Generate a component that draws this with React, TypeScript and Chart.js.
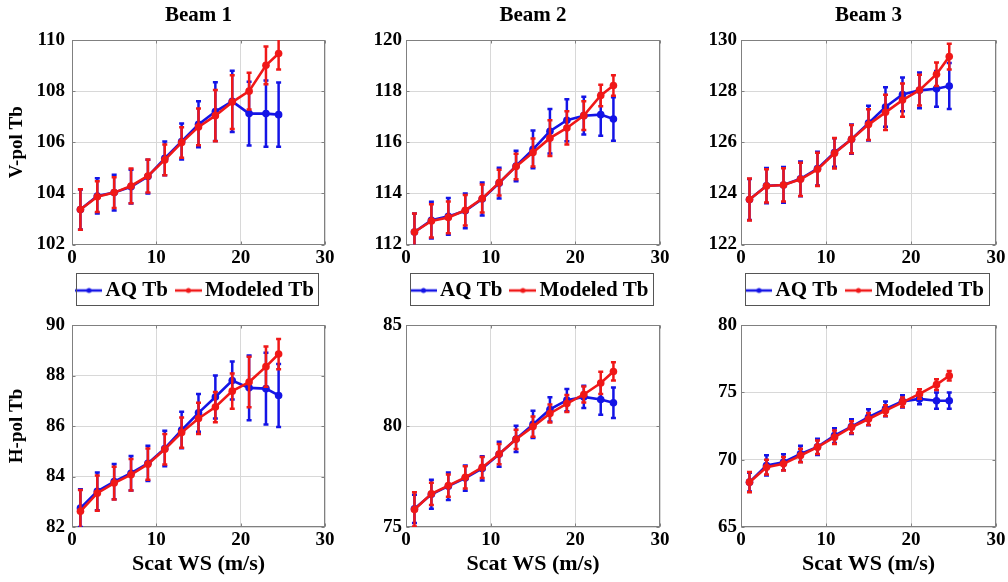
import React, { useEffect, useRef } from 'react';
import { Chart, registerables } from 'chart.js';

Chart.register(...registerables);
Chart.defaults.font.family = '"Liberation Serif", "Times New Roman", serif';
Chart.defaults.color = '#000';

// ---------- data ----------
const WS = [1, 3, 5, 7, 9, 11, 13, 15, 17, 19, 21, 23, 24.5];
const BEAMS = ['Beam 1', 'Beam 2', 'Beam 3'];
const SERIES_NAMES = ['AQ Tb', 'Modeled Tb'];
const ROW_LABELS = ['V-pol Tb', 'H-pol Tb'];
const X_LABEL = 'Scat WS (m/s)';
const X_MIN = 0;
const X_MAX = 30;
const X_STEP = 10;

const V_Y_MIN = [102, 112, 122];
const V_Y_MAX = [110, 120, 130];
const V_Y_STEP = [2, 2, 2];
const H_Y_MIN = [82, 75, 65];
const H_Y_MAX = [90, 85, 80];
const H_Y_STEP = [2, 5, 5];

// V-pol
const V1_AQ = [103.37, 103.9, 104.03, 104.26, 104.66, 105.37, 106.03, 106.7, 107.2, 107.6, 107.12, 107.12, 107.08];
const V1_AQ_ERR = [0.78, 0.69, 0.7, 0.66, 0.66, 0.66, 0.7, 0.9, 1.15, 1.2, 1.25, 1.3, 1.26];
const V1_MOD = [103.37, 103.87, 104.03, 104.29, 104.68, 105.31, 105.99, 106.6, 107.04, 107.57, 108.0, 109.01, 109.47];
const V1_MOD_ERR = [0.79, 0.6, 0.6, 0.68, 0.65, 0.6, 0.6, 0.72, 1.0, 1.05, 0.72, 0.74, 0.62];

const V2_AQ = [112.49, 112.95, 113.1, 113.32, 113.78, 114.4, 115.07, 115.72, 116.43, 116.86, 117.04, 117.08, 116.91];
const V2_AQ_ERR = [0.72, 0.72, 0.72, 0.68, 0.65, 0.6, 0.6, 0.74, 0.87, 0.82, 0.74, 0.83, 0.85];
const V2_MOD = [112.49, 112.92, 113.06, 113.34, 113.8, 114.42, 115.05, 115.6, 116.16, 116.56, 117.04, 117.83, 118.22];
const V2_MOD_ERR = [0.72, 0.65, 0.62, 0.6, 0.55, 0.5, 0.5, 0.55, 0.7, 0.65, 0.56, 0.42, 0.4];

const V3_AQ = [123.76, 124.3, 124.33, 124.57, 124.97, 125.6, 126.12, 126.75, 127.38, 127.87, 128.03, 128.09, 128.2];
const V3_AQ_ERR = [0.8, 0.69, 0.7, 0.68, 0.66, 0.56, 0.57, 0.68, 0.77, 0.66, 0.7, 0.7, 0.9];
const V3_MOD = [123.76, 124.29, 124.33, 124.55, 124.94, 125.57, 126.12, 126.69, 127.17, 127.65, 128.04, 128.66, 129.35];
const V3_MOD_ERR = [0.82, 0.65, 0.65, 0.65, 0.65, 0.6, 0.55, 0.6, 0.69, 0.65, 0.6, 0.46, 0.5];

// H-pol
const H1_AQ = [82.75, 83.41, 83.8, 84.13, 84.52, 85.11, 85.84, 86.52, 87.15, 87.8, 87.51, 87.48, 87.21];
const H1_AQ_ERR = [0.75, 0.75, 0.7, 0.68, 0.7, 0.7, 0.72, 0.75, 0.85, 0.75, 1.28, 1.42, 1.25];
const H1_MOD = [82.62, 83.34, 83.74, 84.07, 84.49, 85.08, 85.74, 86.3, 86.75, 87.38, 87.74, 88.35, 88.85];
const H1_MOD_ERR = [0.85, 0.7, 0.65, 0.62, 0.62, 0.6, 0.6, 0.62, 0.6, 0.7, 1.0, 0.8, 0.6];

const H2_AQ = [75.9, 76.62, 77.02, 77.42, 77.9, 78.6, 79.36, 80.08, 80.82, 81.28, 81.44, 81.31, 81.15];
const H2_AQ_ERR = [0.7, 0.72, 0.68, 0.62, 0.6, 0.62, 0.65, 0.68, 0.6, 0.55, 0.55, 0.75, 0.75];
const H2_MOD = [75.87, 76.64, 77.05, 77.46, 77.95, 78.61, 79.34, 79.97, 80.62, 81.11, 81.56, 82.13, 82.7];
const H2_MOD_ERR = [0.85, 0.55, 0.55, 0.55, 0.52, 0.5, 0.48, 0.5, 0.45, 0.42, 0.4, 0.55, 0.45];

const H3_AQ = [68.33, 69.57, 69.81, 70.43, 70.95, 71.79, 72.46, 73.15, 73.77, 74.33, 74.51, 74.38, 74.38];
const H3_AQ_ERR = [0.7, 0.75, 0.6, 0.6, 0.6, 0.55, 0.55, 0.6, 0.55, 0.45, 0.4, 0.6, 0.6];
const H3_MOD = [68.33, 69.44, 69.69, 70.31, 70.93, 71.67, 72.41, 73.02, 73.64, 74.26, 74.88, 75.57, 76.23];
const H3_MOD_ERR = [0.75, 0.55, 0.5, 0.5, 0.5, 0.5, 0.45, 0.45, 0.4, 0.35, 0.35, 0.4, 0.35];

const AQ_ROWS = [[V1_AQ, V2_AQ, V3_AQ], [H1_AQ, H2_AQ, H3_AQ]];
const AQ_ERR_ROWS = [[V1_AQ_ERR, V2_AQ_ERR, V3_AQ_ERR], [H1_AQ_ERR, H2_AQ_ERR, H3_AQ_ERR]];
const MOD_ROWS = [[V1_MOD, V2_MOD, V3_MOD], [H1_MOD, H2_MOD, H3_MOD]];
const MOD_ERR_ROWS = [[V1_MOD_ERR, V2_MOD_ERR, V3_MOD_ERR], [H1_MOD_ERR, H2_MOD_ERR, H3_MOD_ERR]];
const Y_MIN_ROWS = [V_Y_MIN, H_Y_MIN];
const Y_MAX_ROWS = [V_Y_MAX, H_Y_MAX];
const Y_STEP_ROWS = [V_Y_STEP, H_Y_STEP];

// ---------- styling / layout ----------
const BLUE = '#1414e6';
const RED = '#f01818';
const FRAME = '#808080';
const GRID = '#d8d8d8';
const PLOT_LEFT = [72, 406, 741];
const PLOT_W = [253, 254, 255];
const SIDE = 72;
const ROW_TOP = [0, 300];
const ROW_H = [311, 282];
const Y_TICK_PAD = [7, 4, 4];
const LEGEND_PAD = 14.5;
const LEGEND_FONT = 21;

function makeIcon(color: string): HTMLCanvasElement {
  const c = document.createElement('canvas');
  c.width = 27;
  c.height = 10;
  const ctx = c.getContext('2d')!;
  ctx.strokeStyle = color;
  ctx.lineWidth = 2.5;
  ctx.beginPath();
  ctx.moveTo(0, 5);
  ctx.lineTo(27, 5);
  ctx.stroke();
  ctx.fillStyle = color;
  ctx.beginPath();
  ctx.arc(13.5, 5, 2.5, 0, Math.PI * 2);
  ctx.fill();
  return c;
}

const framePlugin = {
  id: 'frame',
  beforeDatasetsDraw(chart: any) {
    const { ctx, chartArea: a, scales } = chart;
    const L = Math.round(a.left) + 0.5;
    const R = Math.round(a.right) - 0.5;
    const T = Math.round(a.top) + 0.5;
    const B = Math.round(a.bottom) - 0.5;
    ctx.save();
    ctx.strokeStyle = FRAME;
    ctx.lineWidth = 1;
    ctx.strokeRect(L, T, R - L, B - T);
    ctx.beginPath();
    scales.x.ticks.forEach((t: any) => {
      const px = Math.round(scales.x.getPixelForValue(t.value)) + 0.5;
      ctx.moveTo(px, B);
      ctx.lineTo(px, B - 3);
      ctx.moveTo(px, T);
      ctx.lineTo(px, T + 3);
    });
    scales.y.ticks.forEach((t: any) => {
      const py = Math.round(scales.y.getPixelForValue(t.value)) + 0.5;
      ctx.moveTo(L, py);
      ctx.lineTo(L + 3, py);
      ctx.moveTo(R, py);
      ctx.lineTo(R - 3, py);
    });
    ctx.stroke();
    ctx.restore();
  },
};

const errorBarPlugin = {
  id: 'errbars',
  afterDatasetDraw(chart: any, args: any) {
    const ds = chart.data.datasets[args.index];
    const errs: number[] | undefined = ds.errors;
    if (!errs) return;
    const { ctx, chartArea: a } = chart;
    const ys = chart.scales.y;
    ctx.save();
    ctx.beginPath();
    ctx.rect(a.left, a.top, a.right - a.left, a.bottom - a.top);
    ctx.clip();
    ctx.strokeStyle = ds.borderColor;
    ctx.lineWidth = 2.5;
    args.meta.data.forEach((pt: any, i: number) => {
      const v = ds.data[i].y;
      const e = errs[i];
      const yt = ys.getPixelForValue(v + e);
      const yb = ys.getPixelForValue(v - e);
      ctx.beginPath();
      ctx.moveTo(pt.x, yt);
      ctx.lineTo(pt.x, yb);
      ctx.moveTo(pt.x - 2.5, yt);
      ctx.lineTo(pt.x + 2.5, yt);
      ctx.moveTo(pt.x - 2.5, yb);
      ctx.lineTo(pt.x + 2.5, yb);
      ctx.stroke();
    });
    ctx.restore();
  },
};

const legendBoxPlugin = {
  id: 'legendBox',
  afterDraw(chart: any) {
    const lg = chart.legend;
    if (!lg || !lg.options.display) return;
    const a = chart.chartArea;
    const rowTop = lg.top + LEGEND_PAD;
    const L = Math.round(a.left) + 4.5;
    const R = Math.round(a.right) - 6.5;
    const T = Math.round(rowTop - 7) + 0.5;
    const B = Math.round(rowTop + LEGEND_FONT + 4) + 0.5;
    const ctx = chart.ctx;
    ctx.save();
    ctx.strokeStyle = '#555';
    ctx.lineWidth = 1;
    ctx.strokeRect(L, T, R - L, B - T);
    ctx.restore();
  },
};

function Panel({ row, col }: { row: number; col: number }) {
  const ref = useRef<HTMLCanvasElement>(null);
  const width = SIDE + PLOT_W[col] + SIDE;
  const height = ROW_H[row];

  useEffect(() => {
    if (!ref.current) return;
    const icons = [makeIcon(BLUE), makeIcon(RED)];
    const aq = AQ_ROWS[row][col];
    const mod = MOD_ROWS[row][col];
    const chart = new Chart(ref.current, {
      type: 'line',
      data: {
        datasets: [
          {
            label: SERIES_NAMES[0],
            data: WS.map((x, i) => ({ x, y: aq[i] })),
            errors: AQ_ERR_ROWS[row][col],
            borderColor: BLUE,
            backgroundColor: BLUE,
            pointBackgroundColor: BLUE,
            pointBorderColor: BLUE,
            borderWidth: 2.6,
            pointRadius: 3.8,
            pointBorderWidth: 0,
            order: 2,
          } as any,
          {
            label: SERIES_NAMES[1],
            data: WS.map((x, i) => ({ x, y: mod[i] })),
            errors: MOD_ERR_ROWS[row][col],
            borderColor: RED,
            backgroundColor: RED,
            pointBackgroundColor: RED,
            pointBorderColor: RED,
            borderWidth: 2.6,
            pointRadius: 3.8,
            pointBorderWidth: 0,
            order: 1,
          } as any,
        ],
      },
      options: {
        animation: false,
        responsive: false,
        devicePixelRatio: 1,
        events: [],
        layout: {
          padding: { top: row === 0 ? 0 : 25, right: 0, bottom: 0, left: 0 },
        },
        plugins: {
          title: {
            display: row === 0,
            text: BEAMS[col],
            color: '#000',
            font: { size: 21, weight: 'bold' },
            padding: { top: 3, bottom: 11.8 },
          },
          legend: {
            display: row === 0,
            position: 'bottom',
            labels: {
              color: '#000',
              font: { size: LEGEND_FONT, weight: 'bold' },
              usePointStyle: true,
              pointStyleWidth: 12,
              padding: LEGEND_PAD,
              generateLabels: (ch: any) => {
                const items = Chart.defaults.plugins.legend.labels.generateLabels(ch);
                return items
                  .slice()
                  .sort((p: any, q: any) => p.datasetIndex - q.datasetIndex)
                  .map((it: any) => ({ ...it, pointStyle: icons[it.datasetIndex] }));
              },
            },
          },
          tooltip: { enabled: false },
        },
        scales: {
          x: {
            type: 'linear',
            min: X_MIN,
            max: X_MAX,
            ticks: { stepSize: X_STEP, padding: 2, color: '#000', font: { size: 19, weight: 'bold' }, maxRotation: 0 },
            grid: { color: GRID, lineWidth: 1, drawTicks: false },
            border: { display: false },
            title: {
              display: row === 1,
              text: X_LABEL,
              color: '#000',
              font: { size: 22, weight: 'bold' },
              padding: { top: 0, bottom: 4 },
            },
            afterFit: (s: any) => {
              s.height = row === 0 ? 21 : 55;
            },
          },
          y: {
            type: 'linear',
            position: 'left',
            min: Y_MIN_ROWS[row][col],
            max: Y_MAX_ROWS[row][col],
            ticks: {
              stepSize: Y_STEP_ROWS[row][col],
              padding: Y_TICK_PAD[col],
              color: '#000',
              font: { size: 19, weight: 'bold' },
            },
            grid: { color: GRID, lineWidth: 1, drawTicks: false },
            border: { display: false },
            title: {
              display: col === 0,
              text: ROW_LABELS[row],
              color: '#000',
              font: { size: 19, weight: 'bold' },
              padding: { top: 6, bottom: 0 },
            },
            afterFit: (s: any) => {
              s.width = SIDE;
            },
          },
          yRight: {
            type: 'linear',
            position: 'right',
            display: true,
            min: Y_MIN_ROWS[row][col],
            max: Y_MAX_ROWS[row][col],
            ticks: { display: false },
            grid: { display: false, drawTicks: false },
            border: { display: false },
            afterFit: (s: any) => {
              s.width = SIDE;
            },
          },
        },
      } as any,
      plugins: [framePlugin, errorBarPlugin, legendBoxPlugin],
    });
    return () => chart.destroy();
  }, [row, col]);

  return (
    <canvas
      ref={ref}
      width={width}
      height={height}
      style={{
        position: 'absolute',
        left: PLOT_LEFT[col] - SIDE,
        top: ROW_TOP[row],
        width,
        height,
      }}
    />
  );
}

export default function App() {
  return (
    <div
      style={{
        position: 'absolute',
        left: 0,
        top: 0,
        width: 1008,
        height: 582,
        overflow: 'hidden',
        background: '#fff',
      }}
    >
      {[0, 1].map((r) => [0, 1, 2].map((c) => <Panel key={`${r}-${c}`} row={r} col={c} />))}
    </div>
  );
}
